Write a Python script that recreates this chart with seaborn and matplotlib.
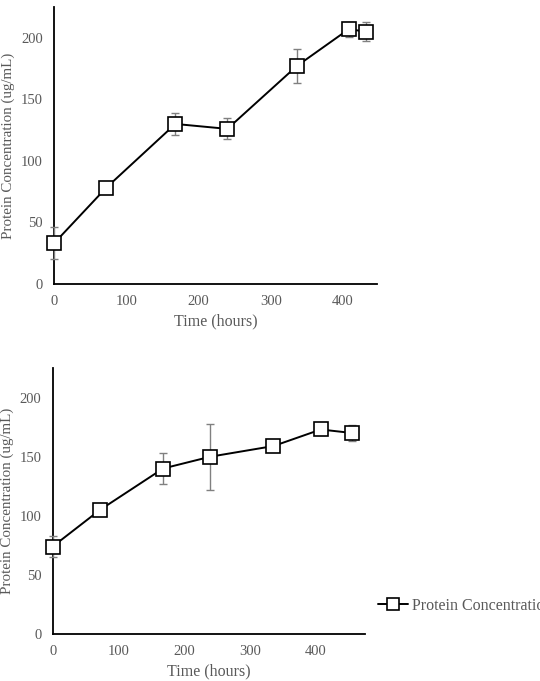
import matplotlib
matplotlib.use("Agg")
import matplotlib.pyplot as plt
import seaborn as sns
import pandas as pd
from matplotlib.lines import Line2D

# ---- data ----
time_top = [0, 72, 168, 240, 336, 408, 432]
conc_top = [33, 78, 130, 126, 177, 207, 205]
err_top = [13, 0, 9, 8.5, 13.5, 6, 7.5]

time_bot = [0, 72, 168, 240, 336, 408, 456]
conc_bot = [74, 105, 140, 150, 159, 173, 170]
err_bot = [8.5, 0, 13.5, 28, 0, 5, 6.5]

x_ticks = [0, 100, 200, 300, 400]
y_ticks = [0, 50, 100, 150, 200]
series_label = "Protein Concentration"
x_label = "Time (hours)"
y_label = "Protein Concentration (ug/mL)"

sns.set_style("white")
plt.rcParams["font.family"] = ["Liberation Serif", "DejaVu Serif"]

fig = plt.figure(figsize=(5.4, 6.81), dpi=100)
ax1 = fig.add_axes([0.100, 0.583, 0.598, 0.4067])
ax2 = fig.add_axes([0.0976, 0.069, 0.578, 0.3906])

tick_color = "#595959"

def draw(ax, t, c, e, xmax):
    df = pd.DataFrame({"t": t, "c": c})
    _, caps, bars = ax.errorbar(t, c, yerr=e, fmt="none", ecolor="#808080", elinewidth=1.0,
                                capsize=3, capthick=1.0, zorder=2)
    for a in list(caps) + list(bars):
        a.set_clip_on(False)
    sns.lineplot(data=df, x="t", y="c", ax=ax, color="black", linewidth=1.4,
                 marker="s", markersize=10, markerfacecolor="white",
                 markeredgecolor="black", markeredgewidth=1.2, zorder=3)
    for ln in ax.lines:
        ln.set_clip_on(False)
    ax.set_xlim(0, xmax)
    ax.set_ylim(0, 225)
    ax.set_xticks(x_ticks)
    ax.set_yticks(y_ticks)
    ax.tick_params(axis="both", length=0, labelsize=10.5, labelcolor=tick_color, pad=8)
    ax.set_xlabel(x_label, fontsize=11.5, color=tick_color, labelpad=4)
    ax.set_ylabel(y_label, fontsize=10.8, color=tick_color, labelpad=4)
    for s in ["top", "right"]:
        ax.spines[s].set_visible(False)
    for s in ["left", "bottom"]:
        ax.spines[s].set_color("black")
        ax.spines[s].set_linewidth(1.3)
        ax.spines[s].set_zorder(1)
    ax.grid(False)
    leg = ax.get_legend()
    if leg:
        leg.remove()

draw(ax1, time_top, conc_top, err_top, 447)
draw(ax2, time_bot, conc_bot, err_bot, 475)

handle = Line2D([0], [0], color="black", linewidth=1.4, marker="s", markersize=9,
                markerfacecolor="white", markeredgecolor="black", markeredgewidth=1.2)
fig.legend([handle], [series_label], loc="center left",
           bbox_to_anchor=(378 / 540, 1 - 606 / 681), frameon=False,
           fontsize=11.5, handlelength=1.9, handletextpad=0.2, borderpad=0,
           borderaxespad=0, labelcolor=tick_color)

fig.savefig("out.png", dpi=100)
